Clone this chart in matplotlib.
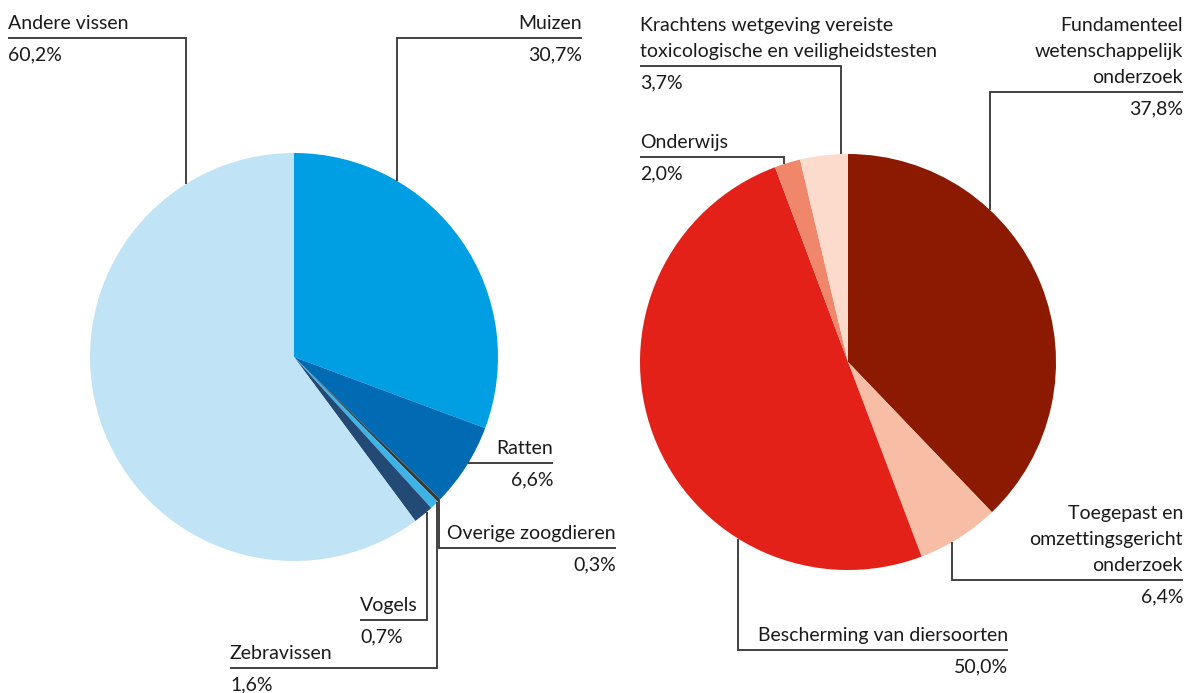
import numpy as np
import matplotlib.pyplot as plt

W, H = 1189, 693

# left pie: species
dier_labels = [["Muizen"], ["Ratten"], ["Overige zoogdieren"], ["Vogels"],
               ["Zebravissen"], ["Andere vissen"]]
dier_values = [30.7, 6.6, 0.3, 0.7, 1.6, 60.2]
dier_colors = ["#009fe3", "#006ab3", "#3a3a3a", "#3cb4e8", "#224a75", "#c0e3f5"]

# right pie: purposes
doel_labels = [["Fundamenteel", "wetenschappelijk", "onderzoek"],
               ["Toegepast en", "omzettingsgericht", "onderzoek"],
               ["Bescherming van diersoorten"],
               ["Onderwijs"],
               ["Krachtens wetgeving vereiste", "toxicologische en veiligheidstesten"]]
doel_values = [37.8, 6.4, 50.0, 2.0, 3.7]
doel_colors = ["#8b1a00", "#f8bea5", "#e32119", "#f0876a", "#fcdbcc"]

# leader layout in pixels from top-left: (kind, line x, line y, text x)
dier_layout = [("top", 397, 38, 582), ("side", None, 463, 553),
               ("bottom", 439, 548, 616), ("bottom", 427, 620, 360),
               ("bottom", 437, 668, 230), ("top", 186, 38, 8)]
doel_layout = [("top", 990, 92, 1183), ("bottom", 952, 580, 1183),
               ("bottom", 738, 650, 1008), ("top", 784, 157, 640),
               ("top", 841, 66, 640)]

FONT = "Lato"
FS = 14
LINE_C = "#333333"


def pct(v):
    return f"{v:.1f}%".replace(".", ",")


def draw_pie(ax, values, colors, labels, layout, cx, cy, r):
    ax.pie(values, colors=colors, startangle=90, counterclock=False,
           center=(cx, H - cy), radius=r, wedgeprops=dict(linewidth=0))
    for lab, v, (kind, lx, ly, tx) in zip(labels, values, layout):
        if kind == "side":
            x0 = cx + np.sqrt(r**2 - (ly - cy)**2)
            xs, ys = [x0, tx], [ly, ly]
        else:
            dy = np.sqrt(r**2 - (lx - cx)**2)
            y0 = cy - dy if kind == "top" else cy + dy
            xs, ys = [lx, lx, tx], [y0, ly, ly]
        ax.plot(xs, [H - y for y in ys], color=LINE_C, lw=1.3,
                solid_capstyle="butt", solid_joinstyle="miter")
        ha = "left" if tx < xs[-2] else "right"
        n = len(lab)
        for i, line in enumerate(lab):
            yb = ly - 9 - (n - 1 - i) * 26
            ax.text(tx, H - yb, line, ha=ha, va="baseline",
                    fontsize=FS, family=FONT, color="#1a1a1a")
        ax.text(tx, H - (ly + 22), pct(v), ha=ha, va="baseline",
                fontsize=FS, family=FONT, color="#1a1a1a")


fig = plt.figure(figsize=(W / 100, H / 100), dpi=100)
ax = fig.add_axes([0, 0, 1, 1])

draw_pie(ax, dier_values, dier_colors, dier_labels, dier_layout, 294, 357, 204)
draw_pie(ax, doel_values, doel_colors, doel_labels, doel_layout, 848, 362, 208)

ax.set_xlim(0, W)
ax.set_ylim(0, H)
ax.set_aspect("equal")
ax.axis("off")

fig.savefig("out.png", dpi=100, facecolor="white")
